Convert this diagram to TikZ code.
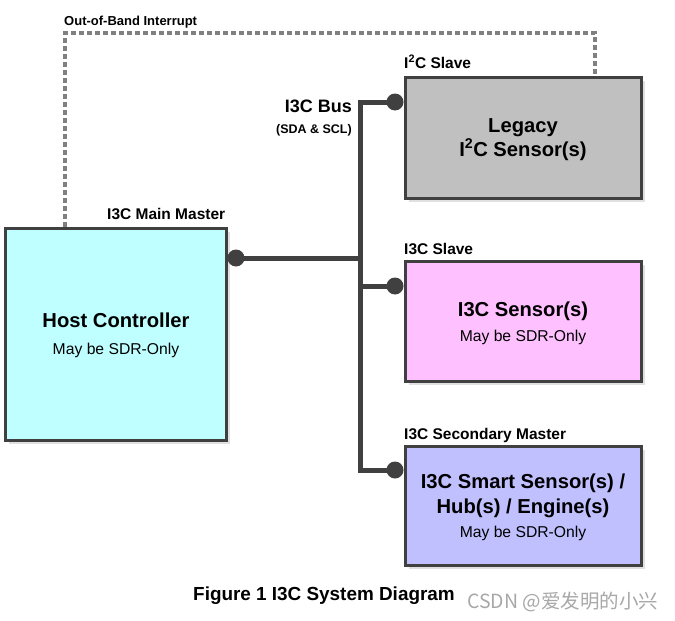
\documentclass[tikz,border=0pt]{standalone}
\usepackage{fontspec}
\setmainfont{Liberation Sans}
\newfontfamily\cjkfont{Noto Sans CJK SC}
\usetikzlibrary{shadows}
\definecolor{edgec}{HTML}{404040}
\definecolor{hostc}{HTML}{C0FFFF}
\definecolor{legc}{HTML}{C0C0C0}
\definecolor{senc}{HTML}{FFC0FF}
\definecolor{smartc}{HTML}{C0C0FF}
\definecolor{oobc}{HTML}{808080}
\definecolor{wmc}{HTML}{A8A8A8}
\begin{document}
\begin{tikzpicture}[x=1pt,y=-1pt,
  box/.style={draw=edgec, line width=3pt, inner sep=0,
    general shadow={fill=black!12, shadow xshift=3pt, shadow yshift=-3pt}},
  lbl/.style={inner sep=0, anchor=base west, font=\bfseries\fontsize{15.5}{18}\selectfont},
  big/.style={inner sep=0, anchor=base, font=\bfseries\fontsize{20.2}{24}\selectfont},
  small/.style={inner sep=0, anchor=base, font=\fontsize{15.7}{18}\selectfont},
  bus/.style={draw=edgec, line width=5pt},
  dot/.style={circle, fill=edgec, minimum size=17pt, inner sep=0},
  oob/.style={draw=oobc, line width=3.5pt, dash pattern=on 5pt off 3pt}]
\useasboundingbox (0,0) rectangle (675,621);
\fill[white] (0,0) rectangle (675,621);

% boxes
\node[box, fill=hostc, minimum width=221pt, minimum height=212pt] (host) at (116,334.5) {};
\node[box, fill=legc, minimum width=236pt, minimum height=121pt] (legacy) at (523.5,138) {};
\node[box, fill=senc, minimum width=236pt, minimum height=120pt] (sensor) at (523.5,321.5) {};
\node[box, fill=smartc, minimum width=236pt, minimum height=119pt] (smart) at (523.5,506) {};

% box texts
\node[big] (hostt) at (116,327) {Host Controller};
\node[small] (hosts) at (116,354) {May be SDR-Only};
\node[big] (legt1) at (523,132) {Legacy};
\node[big] (legt2) at (523,156) {I\textsuperscript{2}C Sensor(s)};
\node[big] (sent) at (523,316) {I3C Sensor(s)};
\node[small] (sens) at (523,341) {May be SDR-Only};
\node[big] (smt1) at (523,488) {I3C Smart Sensor(s) /};
\node[big] (smt2) at (523,513) {Hub(s) / Engine(s)};
\node[small] (sms) at (523,537) {May be SDR-Only};

% labels
\node[lbl, font=\bfseries\fontsize{13}{15}\selectfont] (oobl) at (64,25) {Out-of-Band Interrupt};
\node[lbl] (legl) at (404,68) {I\textsuperscript{2}C Slave};
\node[lbl] (hostl) at (107,219) {I3C Main Master};
\node[lbl] (senl) at (404,254) {I3C Slave};
\node[lbl] (smartl) at (404,439) {I3C Secondary Master};
\node[inner sep=0, anchor=base east, font=\bfseries\fontsize{18}{20}\selectfont] (busl) at (352,112) {I3C Bus};
\node[inner sep=0, anchor=base east, font=\bfseries\fontsize{12.5}{14}\selectfont] (busl2) at (352,133) {(SDA \& SCL)};

% bus
\coordinate (bt) at (360,102);
\coordinate (bb) at (360,470);
\coordinate (bh) at (360,258);
\coordinate (bs) at (360,286);
\node[dot] (dleg) at (395,102) {};
\node[dot] (dhost) at (236,258) {};
\node[dot] (dsen) at (395,286) {};
\node[dot] (dsmart) at (395,470) {};
\draw[bus, line join=miter] (dleg.center) -- (bt) -- (bb) -- (dsmart.center);
\draw[bus] (dhost.center) -- (bh);
\draw[bus] (bs) -- (dsen.center);

% out-of-band interrupt
\coordinate (o1) at (65,33);
\coordinate (o2) at (595,33);
\draw[oob] (host.north -| o1) -- (o1) -- (o2) -- (legacy.north -| o2);

% caption
\node[inner sep=0, anchor=base west, font=\bfseries\fontsize{18.9}{22}\selectfont] (cap) at (193,600) {Figure 1 I3C System Diagram};
\node[inner sep=0, anchor=base west, text=wmc, font=\cjkfont\fontsize{19.5}{22}\selectfont] (wm) at (467,608) {CSDN @爱发明的小兴};
\end{tikzpicture}
\end{document}
